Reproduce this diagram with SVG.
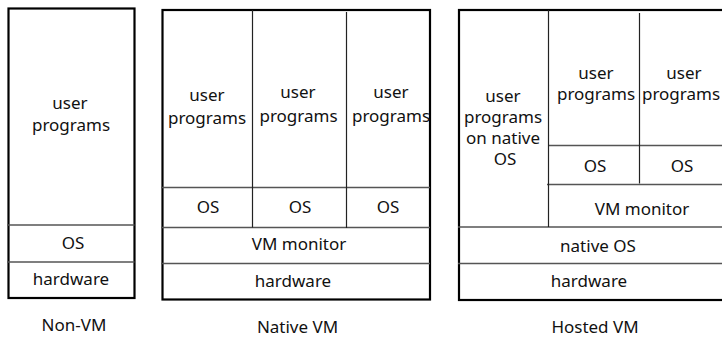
<svg xmlns="http://www.w3.org/2000/svg" width="722" height="337" viewBox="0 0 722 337">
<style>
.frame{fill:#fff;stroke:#000;stroke-width:2.2}
.hl{stroke:#555;stroke-width:1.4;fill:none}
.vl{stroke:#222;stroke-width:1.2;fill:none}
text{font-family:"Comic Sans MS","Noto Sans",sans-serif;font-size:17px;fill:#111;text-anchor:middle}
</style>
<rect width="722" height="337" fill="#fff"/>
<g id="non-vm">
<rect class="frame" x="8.5" y="8.5" width="126" height="289.5"/>
<line class="hl" x1="7" y1="225" x2="134.5" y2="225"/>
<line class="hl" x1="7" y1="262" x2="134.5" y2="262"/>
<text x="70" y="109">user</text>
<text x="71" y="131">programs</text>
<text x="73" y="249">OS</text>
<text x="71" y="285">hardware</text>
<text x="74" y="331">Non-VM</text>
</g>
<g id="native-vm">
<rect class="frame" x="162.5" y="10" width="267.5" height="289.5"/>
<line class="hl" x1="161" y1="187.5" x2="430" y2="187.5"/>
<line class="hl" x1="161" y1="227.5" x2="430" y2="227.5"/>
<line class="hl" x1="161" y1="263.5" x2="430" y2="263.5"/>
<line class="vl" x1="252.5" y1="10" x2="252.5" y2="227.5"/>
<line class="vl" x1="346.5" y1="12" x2="346.5" y2="228"/>
<text x="207" y="101">user</text>
<text x="207" y="124">programs</text>
<text x="298" y="98">user</text>
<text x="298.5" y="121.5">programs</text>
<text x="391" y="98">user</text>
<text x="391" y="122">programs</text>
<text x="208" y="213">OS</text>
<text x="300" y="213">OS</text>
<text x="388" y="213">OS</text>
<text x="299" y="250">VM monitor</text>
<text x="293" y="287">hardware</text>
<text x="297.5" y="333">Native VM</text>
</g>
<g id="hosted-vm">
<rect class="frame" x="459" y="10" width="266" height="290"/>
<line class="hl" x1="549" y1="145.5" x2="722" y2="145.5"/>
<line class="hl" x1="547" y1="184.5" x2="722" y2="184.5"/>
<line class="hl" x1="458" y1="227" x2="722" y2="227"/>
<line class="hl" x1="458" y1="263.5" x2="722" y2="263.5"/>
<line class="vl" x1="548.5" y1="10" x2="548.5" y2="227"/>
<line class="vl" x1="639.5" y1="13" x2="639.5" y2="183.5"/>
<text x="503" y="102">user</text>
<text x="503" y="123">programs</text>
<text x="503" y="144">on native</text>
<text x="505" y="165">OS</text>
<text x="596" y="79">user</text>
<text x="596" y="100">programs</text>
<text x="684" y="79">user</text>
<text x="681" y="100">programs</text>
<text x="595" y="172">OS</text>
<text x="682" y="172">OS</text>
<text x="642" y="215">VM monitor</text>
<text x="598" y="252">native OS</text>
<text x="589" y="287">hardware</text>
<text x="595" y="333">Hosted VM</text>
</g>
</svg>
